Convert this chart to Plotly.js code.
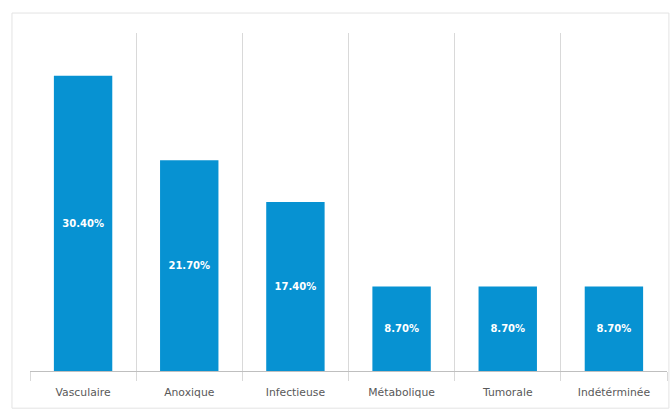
<!DOCTYPE html>
<html>
<head>
<meta charset="utf-8">
<script src="https://cdn.plot.ly/plotly-3.0.1.min.js"></script>
<style>
  html, body { margin: 0; padding: 0; background: #ffffff; }
  #chart { width: 672px; height: 411px; }
</style>
</head>
<body>
<div id="chart"></div>
<script>
const categories = ["Vasculaire", "Anoxique", "Infectieuse", "Métabolique", "Tumorale", "Indétérminée"];
const values = [30.4, 21.7, 17.4, 8.7, 8.7, 8.7];
const labels = values.map(v => v.toFixed(2) + "%");

const trace = {
  type: "bar",
  x: categories,
  y: values,
  text: labels,
  textposition: "inside",
  insidetextanchor: "middle",
  textangle: 0,
  textfont: { family: "DejaVu Sans, Arial, sans-serif", size: 10, color: "#ffffff", weight: "bold" },
  marker: { color: "#0792d2" },
  hoverinfo: "skip",
  cliponaxis: false
};

const layout = {
  width: 672,
  height: 411,
  margin: { l: 30, r: 5, t: 33, b: 40, pad: 0 },
  paper_bgcolor: "#ffffff",
  plot_bgcolor: "#ffffff",
  bargap: 0.45,
  showlegend: false,
  font: { family: "DejaVu Sans, Arial, sans-serif", color: "#595959" },
  xaxis: {
    type: "category",
    tickson: "boundaries",
    ticks: "outside",
    ticklen: 9,
    tickcolor: "#d9d9d9",
    ticklabelstandoff: 11,
    showgrid: true,
    gridcolor: "#d9d9d9",
    gridwidth: 1,
    showline: true,
    linecolor: "#bfbfbf",
    linewidth: 1,
    tickfont: { family: "DejaVu Sans, Arial, sans-serif", size: 10.8, color: "#595959" },
    fixedrange: true
  },
  yaxis: {
    range: [0, 34.8],
    showgrid: false,
    zeroline: false,
    showticklabels: false,
    showline: false,
    ticks: "",
    fixedrange: true
  },
  shapes: [{
    type: "rect",
    xref: "paper", yref: "paper",
    x0: -0.0283, x1: 1.003,
    y0: -0.11, y1: 1.059,
    line: { color: "#e3e3e3", width: 1 },
    fillcolor: "rgba(0,0,0,0)",
    layer: "below"
  }]
};

Plotly.newPlot("chart", [trace], layout, { displayModeBar: false, staticPlot: true });
</script>
</body>
</html>
